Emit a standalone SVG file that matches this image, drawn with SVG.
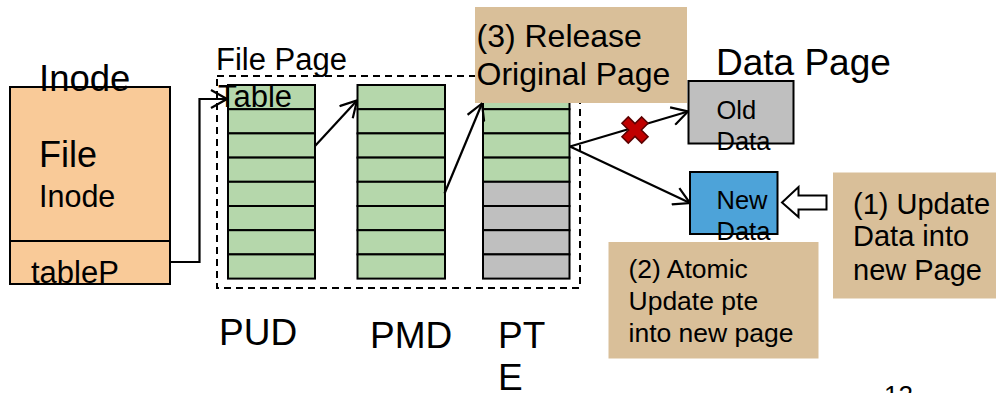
<svg xmlns="http://www.w3.org/2000/svg" width="996" height="393" viewBox="0 0 996 393">
<style>
text{font-family:"Liberation Sans",Arial,sans-serif;fill:#000}
.cell{stroke:#000;stroke-width:2}
.g{fill:#B5D7AB}
.gr{fill:#BFBFBF}
.tan{fill:#D9BF99}
.conn{fill:none;stroke:#000;stroke-width:2.2}
</style>
<defs>
<marker id="arr" viewBox="0 0 18 20" refX="17" refY="10" markerWidth="18" markerHeight="20" markerUnits="userSpaceOnUse" orient="auto">
<path d="M1,1 L17,10 L1,19" fill="none" stroke="#000" stroke-width="2.2"/>
</marker>
</defs>
<rect width="996" height="393" fill="#fff"/>

<g id="filepage-frame">
<rect x="217" y="76" width="363" height="212" fill="none" stroke="#000" stroke-width="2" stroke-dasharray="7,5"/>
<text x="216" y="70" font-size="31">File Page</text>
</g>

<g id="inode">
<rect x="10" y="87" width="160" height="197" fill="#F9CA98" stroke="#000" stroke-width="2"/>
<line x1="10" y1="241" x2="170" y2="241" stroke="#000" stroke-width="2"/>
<text x="39" y="91" font-size="36.5">Inode</text>
<text x="39" y="167" font-size="36">File</text>
<text x="39" y="207" font-size="30.5">Inode</text>
<text x="31" y="283" font-size="31">tableP</text>
</g>

<g id="pud">
<rect class="cell g" x="228" y="85" width="87" height="24.2"/>
<rect class="cell g" x="228" y="109.2" width="87" height="24.2"/>
<rect class="cell g" x="228" y="133.4" width="87" height="24.2"/>
<rect class="cell g" x="228" y="157.6" width="87" height="24.2"/>
<rect class="cell g" x="228" y="181.8" width="87" height="24.2"/>
<rect class="cell g" x="228" y="206" width="87" height="24.2"/>
<rect class="cell g" x="228" y="230.2" width="87" height="24.2"/>
<rect class="cell g" x="228" y="254.4" width="87" height="24.2"/>
<text x="218" y="107" font-size="31">Table</text>
<text x="219" y="345" font-size="37">PUD</text>
</g>

<g id="pmd">
<rect class="cell g" x="357.5" y="85" width="87.5" height="24.2"/>
<rect class="cell g" x="357.5" y="109.2" width="87.5" height="24.2"/>
<rect class="cell g" x="357.5" y="133.4" width="87.5" height="24.2"/>
<rect class="cell g" x="357.5" y="157.6" width="87.5" height="24.2"/>
<rect class="cell g" x="357.5" y="181.8" width="87.5" height="24.2"/>
<rect class="cell g" x="357.5" y="206" width="87.5" height="24.2"/>
<rect class="cell g" x="357.5" y="230.2" width="87.5" height="24.2"/>
<rect class="cell g" x="357.5" y="254.4" width="87.5" height="24.2"/>
<text x="370" y="348" font-size="37">PMD</text>
</g>

<g id="pte">
<rect class="cell g" x="483" y="85" width="86.5" height="24.2"/>
<rect class="cell g" x="483" y="109.2" width="86.5" height="24.2"/>
<rect class="cell g" x="483" y="133.4" width="86.5" height="24.2"/>
<rect class="cell g" x="483" y="157.6" width="86.5" height="24.2"/>
<rect class="cell gr" x="483" y="181.8" width="86.5" height="24.2"/>
<rect class="cell gr" x="483" y="206" width="86.5" height="24.2"/>
<rect class="cell gr" x="483" y="230.2" width="86.5" height="24.2"/>
<rect class="cell gr" x="483" y="254.4" width="86.5" height="24.2"/>
<text x="498" y="348" font-size="37">PT</text>
<text x="498" y="390" font-size="37">E</text>
</g>

<g id="release-note">
<rect class="tan" x="475" y="7" width="212" height="96"/>
<text x="476.5" y="47" font-size="32">(3) Release</text>
<text x="476.5" y="85" font-size="32">Original Page</text>
</g>

<g id="datapage">
<text x="716" y="75" font-size="37">Data Page</text>
</g>

<g id="old-data">
<rect x="688.5" y="81" width="105" height="62.5" fill="#BFBFBF" stroke="#000" stroke-width="2"/>
<text x="716.5" y="118.5" font-size="25.5" fill="#222">Old</text>
<text x="716.5" y="150" font-size="25.5" fill="#222">Data</text>
</g>

<g id="new-data">
<rect x="690" y="172" width="87.5" height="62" fill="#4DA3D9" stroke="#000" stroke-width="2"/>
<text x="716.5" y="208.5" font-size="25.5">New</text>
<text x="716.5" y="240" font-size="25.5">Data</text>
</g>

<g id="update-note">
<rect class="tan" x="833" y="172.5" width="163" height="126"/>
<text x="853" y="213.5" font-size="29">(1) Update</text>
<text x="853" y="245.5" font-size="29">Data into</text>
<text x="853" y="280" font-size="29">new Page</text>
</g>

<g id="atomic-note">
<rect class="tan" x="608.5" y="242" width="210" height="116.5"/>
<text x="628.5" y="277.5" font-size="26.5">(2) Atomic</text>
<text x="628.5" y="309.5" font-size="26.5">Update pte</text>
<text x="628.5" y="342" font-size="26.5">into new page</text>
</g>

<g id="connectors">
<polyline class="conn" points="170,262 199.5,262 199.5,99 227,99" marker-end="url(#arr)"/>
<line class="conn" x1="315" y1="146" x2="357" y2="100.5" marker-end="url(#arr)"/>
<line class="conn" x1="444.5" y1="193.5" x2="482" y2="103.5" marker-end="url(#arr)"/>
<line class="conn" x1="570" y1="146.5" x2="688" y2="111.5" marker-end="url(#arr)"/>
<line class="conn" x1="570" y1="146.5" x2="690" y2="203" marker-end="url(#arr)"/>
<polygon points="782,202.5 798.5,187 798.5,195.5 826.5,195.5 826.5,209.5 798.5,209.5 798.5,217" fill="#fff" stroke="#000" stroke-width="2"/>
<g transform="translate(635,130) rotate(45)">
<polygon points="-4.5,-14 4.5,-14 4.5,-4.5 14,-4.5 14,4.5 4.5,4.5 4.5,14 -4.5,14 -4.5,4.5 -14,4.5 -14,-4.5 -4.5,-4.5" fill="#C00000" stroke="#5a0000" stroke-width="1.5"/>
</g>
</g>

<text x="884" y="404" font-size="26" fill="#8c8c8c">12</text>
</svg>
